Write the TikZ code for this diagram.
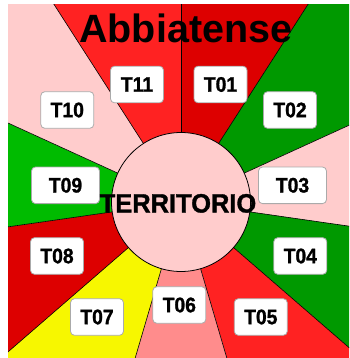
\documentclass[tikz,border=0pt]{standalone}
\usepackage{fontspec}
\setmainfont{Liberation Sans}
\newfontfamily\bsans{Liberation Sans Bold}
\newfontfamily\lsans{Liberation Sans Bold}[FakeBold=1.2, FakeStretch=0.92]
\newfontfamily\tsans{Liberation Sans Bold}[FakeBold=1.2, FakeStretch=0.96]
\definecolor{rA}{HTML}{DD0000}
\definecolor{rB}{HTML}{FF2222}
\definecolor{gA}{HTML}{009900}
\definecolor{gB}{HTML}{00BB00}
\definecolor{pk}{HTML}{FFCCCC}
\definecolor{sal}{HTML}{FF8C8C}
\definecolor{yel}{HTML}{F7F700}
\definecolor{bord}{HTML}{AAAAAA}
\begin{document}
\begin{tikzpicture}[x=1pt,y=-1pt,
  lbl/.style={draw=bord, fill=white, rounded corners=4pt, line width=0.8pt,
    font=\lsans\fontsize{21}{21}\selectfont, minimum width=53pt,
    minimum height=36.6pt, inner sep=0pt},
  wide/.style={minimum width=68pt},
  edge/.style={draw=black, line width=0.6pt}]
\useasboundingbox (0,0) rectangle (349,358);
\coordinate (c) at (181,202);
\begin{scope}
  \clip (8,5) rectangle (349,358);
  \foreach \col [count=\i from 0] in {rA,gA,pk,gA,rB,sal,yel,rA,gB,pk,rB} {
    \pgfmathsetmacro\a{-90+\i*360/11}
    \pgfmathsetmacro\b{-90+(\i+1)*360/11}
    \fill[\col] (c) -- +(\a:600) -- +(\b:600) -- cycle;
  }
  \foreach \i in {0,...,10} {
    \pgfmathsetmacro\a{-90+\i*360/11}
    \draw[edge] (c) -- +(\a:600);
  }
\end{scope}
\node[circle, draw=black, fill=pk, minimum size=139pt, inner sep=0pt, line width=0.8pt] (circ) at (c) {};
\node[lbl] (t01) at (220.5,84.5) {T01};
\node[lbl] (t02) at (290,110) {T02};
\node[lbl,wide] (t03) at (292.5,185.3) {T03};
\node[lbl] (t04) at (300.3,256) {T04};
\node[lbl] (t05) at (260.8,317) {T05};
\node[lbl] (t06) at (179.3,305) {T06};
\node[lbl] (t07) at (97,317) {T07};
\node[lbl] (t08) at (57,256) {T08};
\node[lbl,wide] (t09) at (65.5,185.3) {T09};
\node[lbl] (t10) at (67.3,110) {T10};
\node[lbl] (t11) at (137,84.5) {T11};
\node[anchor=base, inner sep=0pt, font=\bsans\fontsize{39.5}{40}\selectfont] (title) at (185.8,42.3) {Abbiatense};
\node[anchor=base, inner sep=0pt, font=\tsans\fontsize{26.5}{27}\selectfont] (terr) at (178,212.5) {TERRITORIO};
\end{tikzpicture}
\end{document}
